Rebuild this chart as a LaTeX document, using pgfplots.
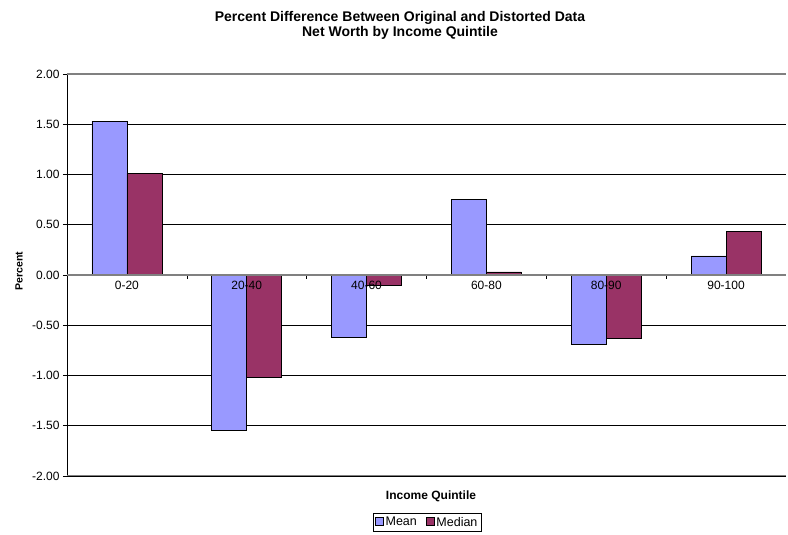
\documentclass[border=0pt]{standalone}
\usepackage{pgfplots}
\pgfplotsset{compat=1.18}
\usepackage{fontspec}
\setmainfont{Liberation Sans}
\definecolor{meanc}{HTML}{9999FF}
\definecolor{medc}{HTML}{993366}
\definecolor{zgray}{HTML}{808080}
\pgfplotsset{
  common/.style={at={(67pt,59pt)}, anchor=south west,
    scale only axis, width=719pt, height=402pt,
    xmin=-0.5, xmax=5.5, ymin=-2, ymax=2},
}
\begin{document}
\begin{tikzpicture}[x=1pt,y=1pt]
\useasboundingbox (0,0) rectangle (788,535);
\begin{axis}[
  common,
  axis y line=left, axis x line=middle,
  axis line style={-},
  x axis line style={zgray, line width=1.3pt},
  y axis line style={black, line width=0.8pt},
  ytick={-2,-1.5,...,2},
  /pgf/number format/fixed, /pgf/number format/fixed zerofill, /pgf/number format/precision=2,
  /pgf/number format/assume math mode=true,
  yticklabel style={font=\fontsize{12}{14}\selectfont},
  ymajorgrids, grid style={black, line width=0.6pt},
  xtick={0.5,1.5,2.5,3.5,4.5}, xticklabels={},
  tick align=outside, major tick length=4pt,
  tick style={black, line width=0.6pt},
  ybar=0pt, bar width=35pt,
  legend style={at={(axis description cs:0.501,-0.115)}, anchor=center, draw=black, line width=0.6pt,
    legend columns=2, font=\fontsize{12.5}{14}\selectfont, inner sep=1.5pt,
    /tikz/every even column/.append style={column sep=7pt}},
  legend image code/.code={\draw[#1, line width=0.6pt] (0pt,-3pt) rectangle (8pt,5pt);},
]
\addplot[fill=meanc, draw=black, line width=0.6pt] coordinates {(0,1.53) (1,-1.55) (2,-0.62) (3,0.75) (4,-0.69) (5,0.19)};
\addplot[fill=medc, draw=black, line width=0.6pt] coordinates {(0,1.01) (1,-1.02) (2,-0.10) (3,0.03) (4,-0.63) (5,0.43)};
\legend{Mean,Median}
\draw[zgray, line width=1.3pt] (rel axis cs:0,1) -- (rel axis cs:1,1);
\draw[zgray, line width=1.3pt] (rel axis cs:0,0) -- (rel axis cs:1,0);
\draw[zgray, line width=1.3pt] (axis cs:-0.5,0) -- (axis cs:5.5,0);
\end{axis}
\begin{axis}[
  common,
  axis y line=none, axis x line=middle,
  x axis line style={draw=none},
  ytick=\empty,
  xtick={0,1,2,3,4,5},
  xticklabels={0-20,20-40,40-60,60-80,80-90,90-100},
  major tick length=0pt,
  xticklabel style={font=\fontsize{12}{14}\selectfont, yshift=-3pt},
]
\end{axis}
\node[font=\bfseries\fontsize{14}{15}\selectfont, align=center] at (400,509.5) {Percent Difference Between Original and Distorted Data\\Net Worth by Income Quintile};
\node[font=\bfseries\fontsize{12}{14}\selectfont] at (431,39) {Income Quintile};
\node[font=\bfseries\fontsize{10.5}{13}\selectfont, rotate=90] at (19,264) {Percent};
\end{tikzpicture}
\end{document}
